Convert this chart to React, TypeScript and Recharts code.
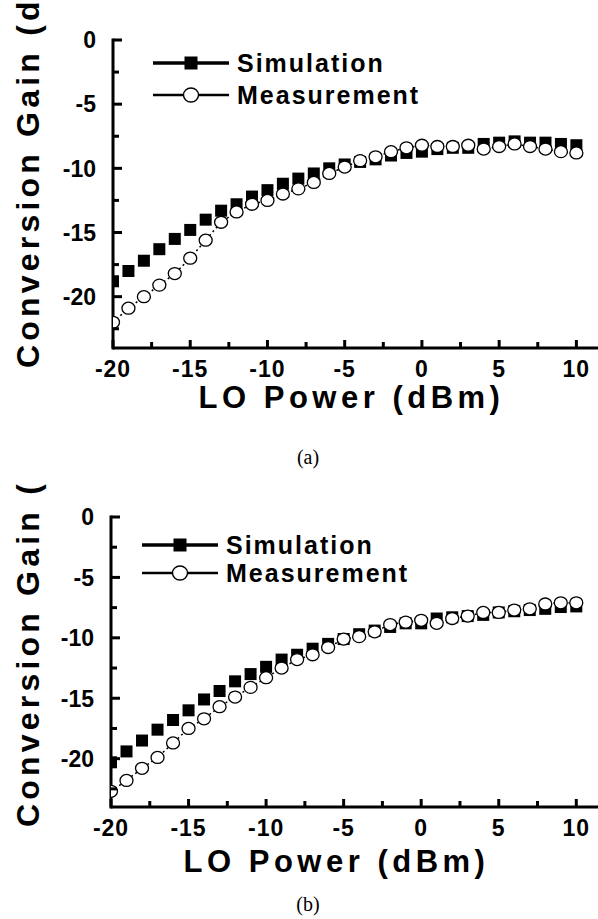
import React from 'react'
import { LineChart, Line, XAxis, YAxis, Legend } from 'recharts'

const loPower = [
  -20, -19, -18, -17, -16, -15, -14, -13, -12, -11, -10, -9, -8, -7, -6, -5,
  -4, -3, -2, -1, 0, 1, 2, 3, 4, 5, 6, 7, 8, 9, 10,
]

// panel (a)
const simA = [
  -18.8, -18.0, -17.2, -16.3, -15.5, -14.8, -14.0, -13.3, -12.8, -12.2, -11.7, -11.2, -10.8, -10.4, -10.0, -9.7,
  -9.5, -9.3, -9.0, -8.8, -8.7, -8.5, -8.4, -8.4, -8.1, -8.0, -7.9, -8.0, -8.0, -8.1, -8.2,
]
const measA = [
  -22.0, -20.9, -20.0, -19.1, -18.2, -17.0, -15.6, -14.2, -13.4, -12.8, -12.5, -12.0, -11.6, -11.1, -10.4, -9.9,
  -9.4, -9.1, -8.7, -8.4, -8.2, -8.3, -8.3, -8.2, -8.5, -8.3, -8.1, -8.3, -8.5, -8.7, -8.8,
]

// panel (b)
const simB = [
  -20.3, -19.4, -18.5, -17.6, -16.8, -16.0, -15.1, -14.4, -13.6, -13.0, -12.4, -11.8, -11.4, -10.9, -10.5, -10.1,
  -9.7, -9.4, -9.1, -8.8, -8.8, -8.4, -8.3, -8.2, -8.1, -7.9, -7.8, -7.7, -7.6, -7.45, -7.4,
]
const measB = [
  -22.7, -21.8, -20.8, -19.9, -18.7, -17.5, -16.7, -15.7, -14.9, -14.1, -13.3, -12.5, -11.8, -11.4, -10.8, -10.1,
  -9.9, -9.5, -8.9, -8.7, -8.55, -8.8, -8.4, -8.2, -7.9, -7.9, -7.7, -7.6, -7.2, -7.1, -7.1,
]

const xTicks = [-20, -17.5, -15, -12.5, -10, -7.5, -5, -2.5, 0, 2.5, 5, 7.5, 10]
const yTicks = [0, -2.5, -5, -7.5, -10, -12.5, -15, -17.5, -20, -22.5]
const seriesNames = ['Simulation', 'Measurement']
const xTitle = 'LO Power (dBm)'
const yTitle = 'Conversion Gain (dB)'

const FONT = '"Liberation Sans", Arial, sans-serif'

const XTick = (props: any) => {
  const { x, y, payload } = props
  const major = payload.value % 5 === 0
  return (
    <g>
      <line x1={x} y1={y} x2={x} y2={y - (major ? 8 : 6)} stroke="#000" strokeWidth={3} />
      {major && (
        <text x={x} y={y + 29} textAnchor="middle" fontFamily={FONT} fontWeight="bold" fontSize={23} letterSpacing={1} fill="#000">
          {payload.value}
        </text>
      )}
    </g>
  )
}

const YTick = (props: any) => {
  const { x, y, payload } = props
  const major = payload.value % 5 === 0
  return (
    <g>
      <line x1={x} y1={y} x2={x + (major ? 9 : 6)} y2={y} stroke="#000" strokeWidth={3} />
      {major && (
        <text x={x - 17} y={y} dy="0.36em" textAnchor="end" fontFamily={FONT} fontWeight="bold" fontSize={23} fill="#000">
          {payload.value}
        </text>
      )}
    </g>
  )
}

const Square = (props: any) => {
  const { cx, cy, index } = props
  if (cx == null || cy == null) return <g key={index} />
  return <rect key={index} x={cx - 6} y={cy - 6} width={12} height={12} fill="#000" />
}

const Circle = (props: any) => {
  const { cx, cy, index } = props
  if (cx == null || cy == null) return <g key={index} />
  return <ellipse key={index} cx={cx} cy={cy} rx={6.5} ry={6} fill="#fff" stroke="#000" strokeWidth={1.3} />
}

function makeLegend(rowY: number[], x0: number, x1: number) {
  const mid = (x0 + x1) / 2
  return () => (
    <svg width={460} height={rowY[1] + 20} style={{ display: 'block', overflow: 'visible' }}>
      <line x1={x0} y1={rowY[0]} x2={x1} y2={rowY[0]} stroke="#000" strokeWidth={3.5} />
      <rect x={mid - 6.5} y={rowY[0] - 6.5} width={13} height={13} fill="#000" />
      <line x1={x0} y1={rowY[1]} x2={x1} y2={rowY[1]} stroke="#000" strokeWidth={2.5} />
      <ellipse cx={mid} cy={rowY[1]} rx={7.5} ry={7} fill="#fff" stroke="#000" strokeWidth={1.4} />
      {seriesNames.map((name, i) => (
        <text key={name} x={x1 + 8} y={rowY[i]} dy="0.36em" fontFamily={FONT} fontWeight="bold" fontSize={25} letterSpacing={2} fill="#000">
          {name}
        </text>
      ))}
    </svg>
  )
}

function Panel(props: {
  sim: number[]
  meas: number[]
  height: number
  top: number
  axisWidth: number
  axisHeight: number
  xTitleDy: number
  xTitleDx: number
  yTitleDy: number
  legendTop: number
  legend: () => React.ReactElement
}) {
  const data = loPower.map((x, i) => ({ x, sim: props.sim[i], meas: props.meas[i] }))
  return (
    <LineChart
      width={598}
      height={props.height}
      data={data}
      margin={{ top: props.top, right: 0, bottom: 0, left: 0 }}
    >
      <XAxis
        type="number"
        dataKey="x"
        domain={[-20, 11.4]}
        allowDataOverflow
        ticks={xTicks}
        interval={0}
        tickSize={0}
        tickMargin={0}
        height={props.axisHeight}
        tick={<XTick />}
        tickLine={false}
        axisLine={{ stroke: '#000', strokeWidth: 3 }}
        label={(p: any) => {
          const vb = p.viewBox
          return (
            <text x={vb.x + vb.width / 2 + props.xTitleDx} y={vb.y + props.xTitleDy} textAnchor="middle" fontFamily={FONT} fontWeight="bold" fontSize={31} letterSpacing={4.5} fill="#000">
              {xTitle}
            </text>
          )
        }}
      />
      <YAxis
        type="number"
        domain={[-24, 0]}
        allowDataOverflow
        ticks={yTicks}
        interval={0}
        tickSize={0}
        tickMargin={0}
        width={props.axisWidth}
        tick={<YTick />}
        tickLine={false}
        axisLine={{ stroke: '#000', strokeWidth: 3, strokeLinecap: 'square' }}
        label={(p: any) => {
          const vb = p.viewBox
          return (
            <text transform={`translate(39, ${vb.y + vb.height + props.yTitleDy}) rotate(-90)`} textAnchor="start" fontFamily={FONT} fontWeight="bold" fontSize={32} letterSpacing={4.2} fill="#000">
              {yTitle}
            </text>
          )
        }}
      />
      <Legend
        layout="horizontal"
        verticalAlign="middle"
        align="center"
        content={props.legend}
        wrapperStyle={{ position: 'absolute', top: props.legendTop, left: 0, width: 460 }}
      />
      <Line
        type="linear"
        dataKey="sim"
        name={seriesNames[0]}
        stroke="none"
        strokeWidth={0}
        dot={Square}
        activeDot={false}
        isAnimationActive={false}
      />
      <Line
        type="linear"
        dataKey="meas"
        name={seriesNames[1]}
        stroke="#000"
        strokeWidth={1.5}
        strokeDasharray="2 3"
        dot={Circle}
        activeDot={false}
        isAnimationActive={false}
      />
    </LineChart>
  )
}

const caption: React.CSSProperties = {
  position: 'absolute',
  width: 40,
  textAlign: 'center',
  fontFamily: '"Liberation Serif", "Times New Roman", serif',
  fontSize: 20,
  lineHeight: '20px',
}

export default function App() {
  return (
    <div style={{ position: 'absolute', left: 0, top: 0, width: 598, height: 919, background: '#fff', overflow: 'hidden' }}>
      <div style={{ position: 'absolute', left: 0, top: 0 }}>
        <Panel
          sim={simA}
          meas={measA}
          height={484}
          top={40}
          axisWidth={113}
          axisHeight={136}
          xTitleDx={-4}
          xTitleDy={60}
          yTitleDy={20}
          legendTop={47}
          legend={makeLegend([16, 48], 153, 229)}
        />
      </div>
      <div style={{ ...caption, left: 288, top: 447 }}>(a)</div>
      <div style={{ position: 'absolute', left: 0, top: 484 }}>
        <Panel
          sim={simB}
          meas={measB}
          height={435}
          top={33}
          axisWidth={111}
          axisHeight={112}
          xTitleDx={-18}
          xTitleDy={65}
          yTitleDy={20}
          legendTop={41}
          legend={makeLegend([20, 48], 142, 218)}
        />
      </div>
      <div style={{ ...caption, left: 288, top: 894 }}>(b)</div>
    </div>
  )
}
